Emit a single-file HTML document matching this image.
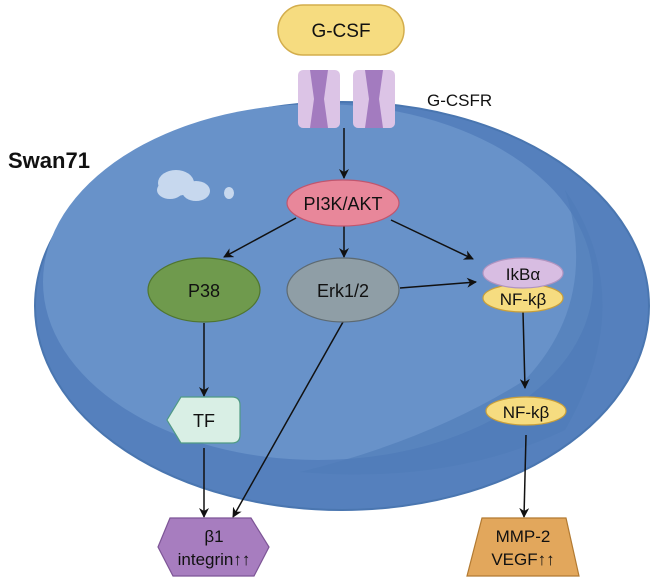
<!DOCTYPE html>
<html><head><meta charset="utf-8"><style>
html,body{margin:0;padding:0;background:#fff;}
svg{display:block;font-family:"Liberation Sans",sans-serif;}
</style></head><body>
<svg width="661" height="586" viewBox="0 0 661 586" xmlns="http://www.w3.org/2000/svg">
<defs>
<marker id="a" markerWidth="10" markerHeight="10" refX="9" refY="5" orient="auto" markerUnits="userSpaceOnUse">
<path d="M0,0 L10,5 L0,10 L3,5 z" fill="#111"/></marker>
</defs>
<ellipse cx="342" cy="306" rx="307" ry="204" fill="#5580bd" stroke="#4a76b0" stroke-width="2"/>
<ellipse cx="318" cy="282" rx="275" ry="178" fill="#6892c9"/>
<path d="M565,190 Q640,300 565,430 Q450,485 300,472 Q430,440 525,380 Q600,300 565,190z" fill="#4f7bb8" opacity="0.6"/>
<ellipse cx="176" cy="183" rx="18" ry="13" fill="#c7d8ee"/>
<ellipse cx="196" cy="191" rx="14" ry="10" fill="#c7d8ee"/>
<ellipse cx="170" cy="190" rx="13" ry="9" fill="#c7d8ee"/>
<ellipse cx="229" cy="193" rx="5" ry="6" fill="#c7d8ee"/>
<rect x="278" y="5" width="126" height="50" rx="25" fill="#f6dc80" stroke="#d3ad4c" stroke-width="1.5"/>
<text x="341" y="37" font-size="19" text-anchor="middle" fill="#111">G-CSF</text>
<g>
<rect x="298" y="70" width="42" height="58" rx="5" fill="#dcc4e6"/>
<path d="M310,70 L328,70 L324,99 L328,128 L310,128 L314,99z" fill="#a37bbf"/>
<rect x="353" y="70" width="42" height="58" rx="5" fill="#dcc4e6"/>
<path d="M365,70 L383,70 L379,99 L383,128 L365,128 L369,99z" fill="#a37bbf"/>
</g>
<text x="427" y="106" font-size="17" fill="#111">G-CSFR</text>
<text x="8" y="168" font-size="22" font-weight="bold" fill="#111">Swan71</text>
<g stroke="#111" stroke-width="1.5" fill="none" marker-end="url(#a)">
<line x1="344" y1="128" x2="344" y2="178"/>
<line x1="296" y1="218" x2="224" y2="257"/>
<line x1="344" y1="226" x2="344" y2="257"/>
<line x1="391" y1="220" x2="473" y2="259"/>
<line x1="400" y1="288" x2="476" y2="282"/>
<line x1="204" y1="323" x2="204" y2="396"/>
<line x1="204" y1="448" x2="204" y2="517"/>
<line x1="343" y1="322" x2="233" y2="517"/>
<line x1="523" y1="312" x2="525" y2="388"/>
<line x1="526" y1="435" x2="524" y2="517"/>
</g>
<ellipse cx="343" cy="203" rx="56" ry="23" fill="#e8879a" stroke="#c0566e" stroke-width="1.2"/>
<text x="343" y="210" font-size="18" text-anchor="middle" fill="#111">PI3K/AKT</text>
<ellipse cx="204" cy="290" rx="56" ry="32" fill="#6f9a4d" stroke="#4f7530" stroke-width="1.2"/>
<text x="204" y="297" font-size="18" text-anchor="middle" fill="#111">P38</text>
<ellipse cx="343" cy="290" rx="56" ry="32" fill="#8f9ea6" stroke="#5d6a72" stroke-width="1.2"/>
<text x="343" y="297" font-size="18" text-anchor="middle" fill="#111">Erk1/2</text>
<ellipse cx="523" cy="298" rx="40" ry="14" fill="#f6dc80" stroke="#c99f3a" stroke-width="1.2"/>
<text x="523" y="305" font-size="17" text-anchor="middle" fill="#111">NF-kβ</text>
<ellipse cx="523" cy="273" rx="40" ry="15" fill="#d8bde2" stroke="#b094c0" stroke-width="1.2"/>
<text x="523" y="280" font-size="17" text-anchor="middle" fill="#111">IkBα</text>
<ellipse cx="526" cy="411" rx="40" ry="14" fill="#f6dc80" stroke="#c99f3a" stroke-width="1.2"/>
<text x="526" y="418" font-size="17" text-anchor="middle" fill="#111">NF-kβ</text>
<path d="M181,397 L232,397 Q240,397 240,405 L240,435 Q240,443 232,443 L181,443 L167,420z" fill="#d9efe5" stroke="#4f9a84" stroke-width="1.2"/>
<text x="204" y="427" font-size="18" text-anchor="middle" fill="#111">TF</text>
<path d="M170,518 L251,518 L269,547 L254,576 L173,576 L158,547z" fill="#a77dbf" stroke="#7d5596" stroke-width="1.2"/>
<text x="214" y="542" font-size="17" text-anchor="middle" fill="#111">β1</text>
<text x="214" y="565" font-size="17" text-anchor="middle" fill="#111">integrin↑↑</text>
<path d="M482,518 L566,518 L579,576 L467,576z" fill="#e2a75c" stroke="#b27a32" stroke-width="1.2"/>
<text x="523" y="542" font-size="17" text-anchor="middle" fill="#111">MMP-2</text>
<text x="523" y="565" font-size="17" text-anchor="middle" fill="#111">VEGF↑↑</text>
</svg>
</body></html>
